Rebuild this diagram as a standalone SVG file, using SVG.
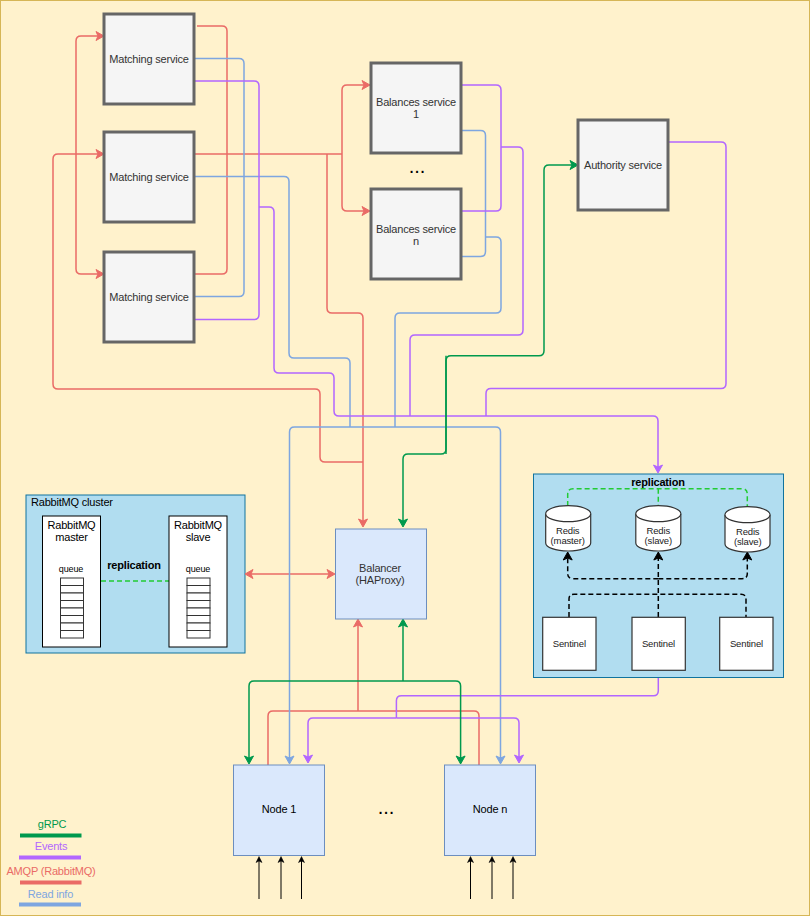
<svg xmlns="http://www.w3.org/2000/svg" width="811" height="917" viewBox="0 0 811 917">
<style>
text{font-family:"Liberation Sans",Arial,sans-serif;font-size:11px;text-anchor:middle;fill:#333;letter-spacing:-.2px}
.dk{fill:#000}
.b{font-weight:bold;fill:#000}
.s{font-size:9px;fill:#000;letter-spacing:-.1px}
.t{font-size:9.500px;fill:#222;letter-spacing:-.15px}
.dots{font-size:20px;fill:#000;letter-spacing:0}
.svc{fill:#f5f5f5;stroke:#666;stroke-width:3}
.blue{fill:#dae8fc;stroke:#6c8ebf;stroke-width:1}
.cl{fill:#b1ddf0;stroke:#10739e;stroke-width:1}
.wh{fill:#fff;stroke:#000;stroke-width:1}
.sen{fill:#fff;stroke:#333;stroke-width:1.200}
.q{fill:#fff;stroke:#333;stroke-width:1}
path{fill:none}
.l{stroke-width:1.500}
.r{stroke:#ea6b66}.u{stroke:#7ea6e0}.p{stroke:#b266ff}.g{stroke:#00994d}
.ra{marker-end:url(#ar)}.rr{marker-start:url(#ar);marker-end:url(#ar)}
.ua{marker-end:url(#au)}.pa{marker-end:url(#ap)}.ga{marker-end:url(#ag)}
.gd{stroke:#22cc33;stroke-width:1.500;stroke-dasharray:5 3}
.kd{stroke:#000;stroke-width:1.500;stroke-dasharray:5 3}
.ka{marker-end:url(#ak)}
.in{stroke:#000;stroke-width:1;marker-end:url(#ai)}
.leg{stroke-width:4}
</style>
<defs>
<marker id="ar" markerUnits="userSpaceOnUse" markerWidth="12" markerHeight="12" viewBox="-2 -6 12 12" refX="2" refY="0" orient="auto-start-reverse"><path d="M0,-4.500L8,0L0,4.500L2,0Z" style="fill:#ea6b66;stroke:#ea6b66"/></marker>
<marker id="au" markerUnits="userSpaceOnUse" markerWidth="12" markerHeight="12" viewBox="-2 -6 12 12" refX="2" refY="0" orient="auto"><path d="M0,-4.500L8,0L0,4.500L2,0Z" style="fill:#7ea6e0;stroke:#7ea6e0"/></marker>
<marker id="ap" markerUnits="userSpaceOnUse" markerWidth="12" markerHeight="12" viewBox="-2 -6 12 12" refX="2" refY="0" orient="auto"><path d="M0,-4.500L8,0L0,4.500L2,0Z" style="fill:#b266ff;stroke:#b266ff"/></marker>
<marker id="ag" markerUnits="userSpaceOnUse" markerWidth="12" markerHeight="12" viewBox="-2 -6 12 12" refX="2" refY="0" orient="auto"><path d="M0,-4.500L8,0L0,4.500L2,0Z" style="fill:#00994d;stroke:#00994d"/></marker>
<marker id="ak" markerUnits="userSpaceOnUse" markerWidth="12" markerHeight="12" viewBox="-2 -6 12 12" refX="2" refY="0" orient="auto"><path d="M0,-4.500L8,0L0,4.500L2,0Z" style="fill:#000;stroke:#000"/></marker>
<marker id="ai" markerUnits="userSpaceOnUse" markerWidth="10" markerHeight="10" viewBox="-1 -5 10 10" refX="1.500" refY="0" orient="auto"><path d="M0,-3L6,0L0,3L1.500,0Z" style="fill:#000;stroke:#000;stroke-width:.5"/></marker>
</defs>
<rect id="background" x="0.500" y="0.500" width="809" height="915" fill="#fff2cc" stroke="#d6b656"/>

<g id="cluster-rabbitmq">
<rect class="cl" x="26" y="495" width="219" height="158"/>
<text x="31" y="506" style="text-anchor:start;fill:#000">RabbitMQ cluster</text>
</g>
<g id="cluster-redis"><rect class="cl" x="533.500" y="474" width="250" height="203.500"/></g>

<g id="connectors">
<path class="l r" d="M197,26L222,26Q227,26 227,31L227,269Q227,274 222,274L195,274"/>
<path class="l r rr" d="M98,36L81,36Q76,36 76,41L76,269Q76,274 81,274L98,274"/>
<path class="l r" d="M195,154L342,154"/>
<path class="l r ra" d="M342,154L342,90Q342,85 347,85L364,85"/>
<path class="l r ra" d="M342,154L342,206Q342,211 347,211L364,211"/>
<path class="l r ra" d="M327,154L327,308Q327,313 332,313L358,313Q363,313 363,318L363,521"/>
<path class="l r" d="M363,462L325,462Q320,462 320,457L320,394Q320,389 315,389L58,389Q53,389 53,384L53,159Q53,154 58,154L80,154"/>
<path class="l r ra" d="M80,154L98,154"/>
<path class="l r rr" d="M251,574L329,574"/>
<path class="l r" d="M268,765L268,716Q268,711 273,711L474,711Q479,711 479,716L479,765"/>
<path class="l r ra" d="M358,711L358,625"/>

<path class="l u" d="M195,58.500L239,58.500Q244,58.500 244,63.500L244,291.500Q244,296.500 239,296.500L195,296.500"/>
<path class="l u" d="M195,176.500L284,176.500Q289,176.500 289,181.500L289,353Q289,358 294,358L345,358Q350,358 350,363L350,427"/>
<path class="l u ua" d="M395,427L294.500,427Q289.500,427 289.500,432L289.500,758"/>
<path class="l u ua" d="M395,427L495.500,427Q500.500,427 500.500,432L500.500,758"/>
<path class="l u" d="M461,130.500L480.500,130.500Q485.500,130.500 485.500,135.500L485.500,251.500Q485.500,256.500 480.500,256.500L461,256.500"/>
<path class="l u" d="M485.500,237L496,237Q501,237 501,242L501,308Q501,313 496,313L400,313Q395,313 395,318L395,427"/>

<path class="l p" d="M195,81L254,81Q259,81 259,86L259,314.500Q259,319.500 254,319.500L195,319.500"/>
<path class="l p pa" d="M259,207L269,207Q274,207 274,212L274,368Q274,373 279,373L329,373Q334,373 334,378L334,411Q334,416 339,416L653,416Q658,416 658,421L658,467"/>
<path class="l p" d="M461,85L496,85Q501,85 501,90L501,206Q501,211 496,211L461,211"/>
<path class="l p" d="M501,147L518,147Q523,147 523,152L523,330Q523,335 518,335L415,335Q410,335 410,340L410,416"/>
<path class="l p" d="M669,142L721,142Q726,142 726,147L726,383.500Q726,388.500 721,388.500L491,388.500Q486,388.500 486,393.500L486,416"/>
<path class="l p" d="M658.300,678L658.300,690.700Q658.300,695.700 653.300,695.700L401.400,695.700Q396.400,695.700 396.400,700.700L396.400,718"/>
<path class="l p pa" d="M396.400,718L313,718Q308,718 308,723L308,757"/>
<path class="l p pa" d="M396.400,718L514,718Q519,718 519,723L519,757"/>

<path class="l g ga" d="M446,454L446,360.700Q446,355.700 451,355.700L539,355.700Q544,355.700 544,350.700L544,170Q544,165 549,165L572,165"/>
<path class="l g ga" d="M446,355.700L446,449Q446,454 441,454L408,454Q403,454 403,459L403,521"/>
<path class="l g ga" d="M403,681L254,681Q249,681 249,686L249,758"/>
<path class="l g ga" d="M403,681L455.600,681Q460.600,681 460.600,686L460.600,758"/>
<path class="l g ga" d="M403,681L403,625"/>

<path class="gd" d="M101,581L169,581"/>
<path class="gd" d="M567.700,506L567.700,494Q567.700,488.700 573,488.700L742,488.700Q747.300,488.700 747.300,494L747.300,507"/>
<path class="gd" d="M658.300,488.700L658.300,506"/>
<path class="kd ka" d="M658.300,617L658.300,558"/>
<path class="kd ka" d="M658.300,578.700L573,578.700Q567.700,578.700 567.700,573.700L567.700,558"/>
<path class="kd ka" d="M658.300,578.700L742,578.700Q747.300,578.700 747.300,573.700L747.300,558"/>
<path class="kd" d="M569,617L569,599Q569,594.300 574,594.300L741,594.300Q746,594.300 746,599L746,617"/>

<path class="in" d="M259,899L259,861"/>
<path class="in" d="M281,899L281,861"/>
<path class="in" d="M301.500,899L301.500,861"/>
<path class="in" d="M470.500,899L470.500,861"/>
<path class="in" d="M492,899L492,861"/>
<path class="in" d="M513,899L513,861"/>
</g>

<g id="matching-1"><rect class="svc" x="104" y="14" width="90" height="90"/><text x="149" y="63">Matching service</text></g>
<g id="matching-2"><rect class="svc" x="104" y="132" width="90" height="90"/><text x="149" y="181">Matching service</text></g>
<g id="matching-3"><rect class="svc" x="104" y="252" width="90" height="90"/><text x="149" y="301">Matching service</text></g>
<g id="balances-1"><rect class="svc" x="371" y="63" width="90" height="90"/><text x="416" y="106">Balances service</text><text x="416" y="118">1</text></g>
<g id="balances-n"><rect class="svc" x="371" y="189" width="90" height="90"/><text x="416" y="233">Balances service</text><text x="416" y="245">n</text></g>
<text id="balances-dots" class="dots" x="417" y="173">...</text>
<g id="authority"><rect class="svc" x="578" y="120" width="90" height="90"/><text x="623" y="169">Authority service</text></g>

<g id="rabbit-master">
<rect class="wh" x="42.500" y="516" width="58" height="131"/>
<text class="dk" x="71.500" y="529">RabbitMQ</text><text class="dk" x="71.500" y="541">master</text>
<text class="s" x="71" y="572">queue</text>
<g id="queue-master">
<rect class="q" x="60.500" y="578" width="23" height="7.500"/><rect class="q" x="60.500" y="585.500" width="23" height="7.500"/><rect class="q" x="60.500" y="593" width="23" height="7.500"/><rect class="q" x="60.500" y="600.500" width="23" height="7.500"/><rect class="q" x="60.500" y="608" width="23" height="7.500"/><rect class="q" x="60.500" y="615.500" width="23" height="7.500"/><rect class="q" x="60.500" y="623" width="23" height="7.500"/><rect class="q" x="60.500" y="630.500" width="23" height="7.500"/>
</g></g>
<g id="rabbit-slave">
<rect class="wh" x="169" y="516" width="58" height="131"/>
<text class="dk" x="198" y="529">RabbitMQ</text><text class="dk" x="198" y="541">slave</text>
<text class="s" x="198" y="572">queue</text>
<g id="queue-slave">
<rect class="q" x="187" y="578" width="23" height="7.500"/><rect class="q" x="187" y="585.500" width="23" height="7.500"/><rect class="q" x="187" y="593" width="23" height="7.500"/><rect class="q" x="187" y="600.500" width="23" height="7.500"/><rect class="q" x="187" y="608" width="23" height="7.500"/><rect class="q" x="187" y="615.500" width="23" height="7.500"/><rect class="q" x="187" y="623" width="23" height="7.500"/><rect class="q" x="187" y="630.500" width="23" height="7.500"/>
</g></g>
<text class="b" x="134" y="569">replication</text>
<text class="b" x="658" y="486">replication</text>

<g id="balancer"><rect class="blue" x="335.500" y="529" width="91" height="90"/><text x="380" y="572">Balancer</text><text x="380" y="584">(HAProxy)</text></g>

<g id="redis-master"><path class="sen" d="M545.700,513.700A22.500,8 0 0 1 590.700,513.700L590.700,543A22.500,8 0 0 1 545.700,543Z"/><path class="sen" d="M545.700,513.700A22.500,8 0 0 0 590.700,513.700"/><text class="t" x="567.700" y="533.500">Redis</text><text class="t" x="567.700" y="543.500">(master)</text></g>
<g id="redis-slave-1"><path class="sen" d="M635.800,513.700A22.500,8 0 0 1 680.800,513.700L680.800,543A22.500,8 0 0 1 635.800,543Z"/><path class="sen" d="M635.800,513.700A22.500,8 0 0 0 680.800,513.700"/><text class="t" x="658.300" y="533.500">Redis</text><text class="t" x="658.300" y="543.500">(slave)</text></g>
<g id="redis-slave-2"><path class="sen" d="M725,514.700A22.500,8 0 0 1 770,514.700L770,544A22.500,8 0 0 1 725,544Z"/><path class="sen" d="M725,514.700A22.500,8 0 0 0 770,514.700"/><text class="t" x="747.700" y="534.500">Redis</text><text class="t" x="747.700" y="544.500">(slave)</text></g>

<g id="sentinel-1"><rect class="sen" x="542.700" y="617.300" width="53.300" height="53"/><text class="t" x="569.300" y="646.500">Sentinel</text></g>
<g id="sentinel-2"><rect class="sen" x="632" y="617.300" width="53.300" height="53"/><text class="t" x="658.500" y="646.500">Sentinel</text></g>
<g id="sentinel-3"><rect class="sen" x="719.700" y="617.300" width="53.300" height="53"/><text class="t" x="746.500" y="646.500">Sentinel</text></g>

<g id="node-1"><rect class="blue" x="233.500" y="765" width="91" height="90.500"/><text class="dk" x="279" y="813">Node 1</text></g>
<g id="node-n"><rect class="blue" x="444.500" y="765" width="91" height="90.500"/><text class="dk" x="490" y="813">Node n</text></g>
<text id="nodes-dots" class="dots" x="386" y="814">...</text>

<g id="legend">
<text x="52" y="828" style="fill:#00994d">gRPC</text><path class="g leg" d="M20,835.500L81.500,835.500"/>
<text x="51" y="850" style="fill:#b266ff">Events</text><path class="p leg" d="M19,857.500L81,857.500"/>
<text x="51" y="875" style="fill:#ea6b66">AMQP (RabbitMQ)</text><path class="r leg" d="M20,882.500L81.500,882.500"/>
<text x="50.500" y="898" style="fill:#7ea6e0">Read info</text><path class="u leg" d="M19,904.500L81,904.500"/>
</g>
</svg>
